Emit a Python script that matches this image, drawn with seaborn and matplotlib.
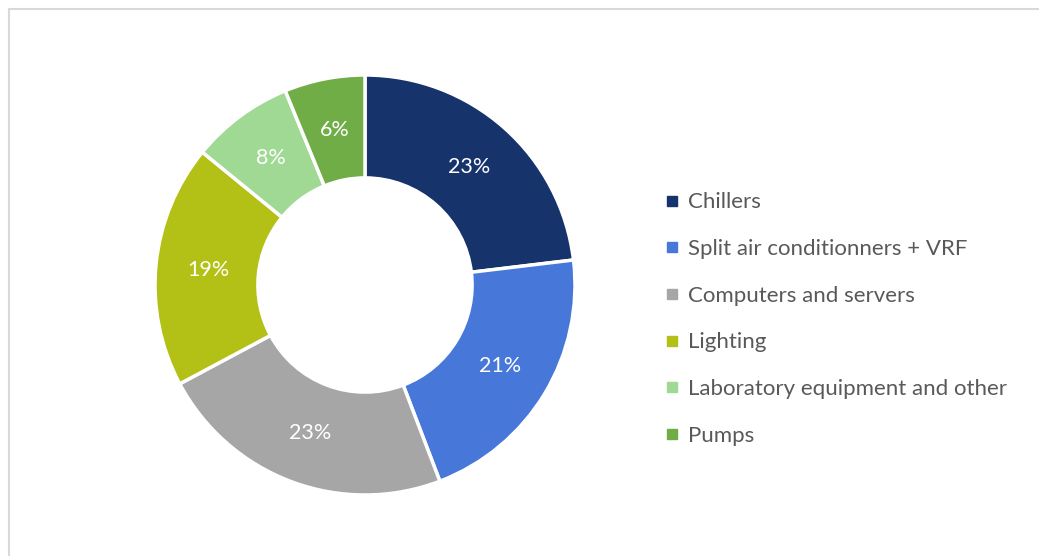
import matplotlib
matplotlib.use('Agg')
import matplotlib.pyplot as plt
from matplotlib.lines import Line2D
import seaborn as sns

# Data
categories = ['Chillers', 'Split air conditionners + VRF', 'Computers and servers',
              'Lighting', 'Laboratory equipment and other', 'Pumps']
shares = [23.1, 21.1, 23.0, 18.7, 7.9, 6.2]
colors = ['#17336B', '#4677D9', '#A6A6A6', '#B3C116', '#9FD994', '#70AD47']

sns.set_theme(style='white')
plt.rcParams['font.family'] = ['Lato', 'DejaVu Sans']

W, H = 1039, 556
fig = plt.figure(figsize=(W / 100, H / 100), dpi=100)

# donut centre (365, 285) px, outer radius 210 px
cx, cy, r = 365, 285, 210
half = 1.25 * r
ax = fig.add_axes([(cx - half) / W, (H - cy - half) / H, 2 * half / W, 2 * half / H])

wedges, texts, autotexts = ax.pie(
    shares, colors=colors, startangle=90, counterclock=False,
    autopct='%.0f%%', pctdistance=0.75,
    wedgeprops=dict(width=0.49, edgecolor='white', linewidth=2.5),
    textprops=dict(color='white', fontsize=15.5))
ax.set_xlim(-1.25, 1.25)
ax.set_ylim(-1.25, 1.25)
ax.set_aspect('equal')
ax.axis('off')

# legend
handles = [Line2D([], [], marker='s', linestyle='none', markersize=6.5,
                  markerfacecolor=c, markeredgecolor=c) for c in colors]
leg = fig.legend(handles, categories, loc='center left',
                 bbox_to_anchor=(656 / W, 1 - 319 / H), frameon=False,
                 fontsize=16, labelspacing=1.2, handlelength=0.6,
                 handletextpad=0.45, borderaxespad=0)
for t in leg.get_texts():
    t.set_color('#595959')

# chart frame (top and left edges visible)
fig.add_artist(Line2D([8.5 / W, 1], [1 - 8.5 / H, 1 - 8.5 / H], color='#D9D9D9', linewidth=1.5))
fig.add_artist(Line2D([8.5 / W, 8.5 / W], [0, 1 - 8.5 / H], color='#D9D9D9', linewidth=1.5))

fig.savefig('out.png', dpi=100)
